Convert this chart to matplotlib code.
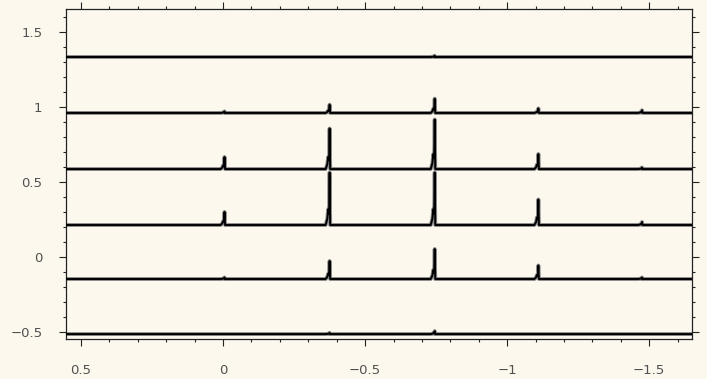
import matplotlib
matplotlib.use('Agg')
import matplotlib.pyplot as plt
from matplotlib.ticker import FixedLocator, FixedFormatter, MultipleLocator
import numpy as np

# ── data ──
baselines = [1.333, 0.960, 0.586, 0.213, -0.147, -0.514]
peak_pos = [-0.005, -0.375, -0.745, -1.110, -1.475]
peak_h = [
    [0.000, 0.000, 0.008, 0.000, 0.000],
    [0.010, 0.055, 0.095, 0.030, 0.018],
    [0.080, 0.270, 0.330, 0.100, 0.010],
    [0.087, 0.350, 0.350, 0.170, 0.020],
    [0.010, 0.120, 0.200, 0.090, 0.010],
    [0.000, 0.008, 0.020, 0.000, 0.000],
]
x_span = [0.553, -1.651]
x_ticks = [0.5, 0, -0.5, -1, -1.5]
x_labels = ['0.5', '0', '\u22120.5', '\u22121', '\u22121.5']
y_ticks = [-0.5, 0, 0.5, 1, 1.5]
y_labels = ['\u22120.5', '0', '0.5', '1', '1.5']

BG = '#fcf8ee'
INK = '#222222'

# peak profile: (x offset, fraction of height) - shoulder on the high-x side
# (left on the reversed axis), sharp drop on the low-x side
shape_dx = [0.014, 0.008, 0.005, 0.003, 0.0015, 0.0, -0.002]
shape_f = [0.0, 0.12, 0.30, 0.22, 0.35, 1.0, 0.0]

fig = plt.figure(figsize=(7.07, 3.79), dpi=100)
fig.patch.set_facecolor(BG)
ax = fig.add_axes([0.0934, 0.1055, 0.9788 - 0.0934, 0.9763 - 0.1055])
ax.set_facecolor(BG)

for b, hs in zip(baselines, peak_h):
    xs = [x_span[0]]
    ys = [b]
    for p, h in zip(peak_pos, hs):
        for dx, f in zip(shape_dx, shape_f):
            xs.append(p + dx)
            ys.append(b + f * h)
    xs.append(x_span[1])
    ys.append(b)
    order = np.argsort(xs)[::-1]
    xs = np.array(xs)[order]
    ys = np.array(ys)[order]
    ax.plot(xs, ys, color='#8a8a8a', lw=2.8, solid_joinstyle='round', zorder=2)
    ax.plot(xs, ys, color='black', lw=1.4, solid_joinstyle='round', zorder=3)

ax.set_xlim(x_span[0], x_span[1])
ax.set_ylim(-0.547, 1.653)

ax.xaxis.set_major_locator(FixedLocator(x_ticks))
ax.xaxis.set_major_formatter(FixedFormatter(x_labels))
ax.yaxis.set_major_locator(FixedLocator(y_ticks))
ax.yaxis.set_major_formatter(FixedFormatter(y_labels))
ax.xaxis.set_minor_locator(MultipleLocator(0.1))
ax.yaxis.set_minor_locator(MultipleLocator(0.1))

ax.tick_params(which='both', direction='out', top=True, right=True,
               color=INK, width=0.8)
ax.tick_params(which='major', length=5)
ax.tick_params(which='minor', length=2.5)
ax.tick_params(axis='x', which='major', pad=13, labelsize=9.5, labelcolor='#505050')
ax.tick_params(axis='y', which='major', pad=12, labelsize=9.5, labelcolor='#505050')

for s in ax.spines.values():
    s.set_color(INK)
    s.set_linewidth(0.9)

plt.savefig('out.png', dpi=100, facecolor=BG)
plt.close()
